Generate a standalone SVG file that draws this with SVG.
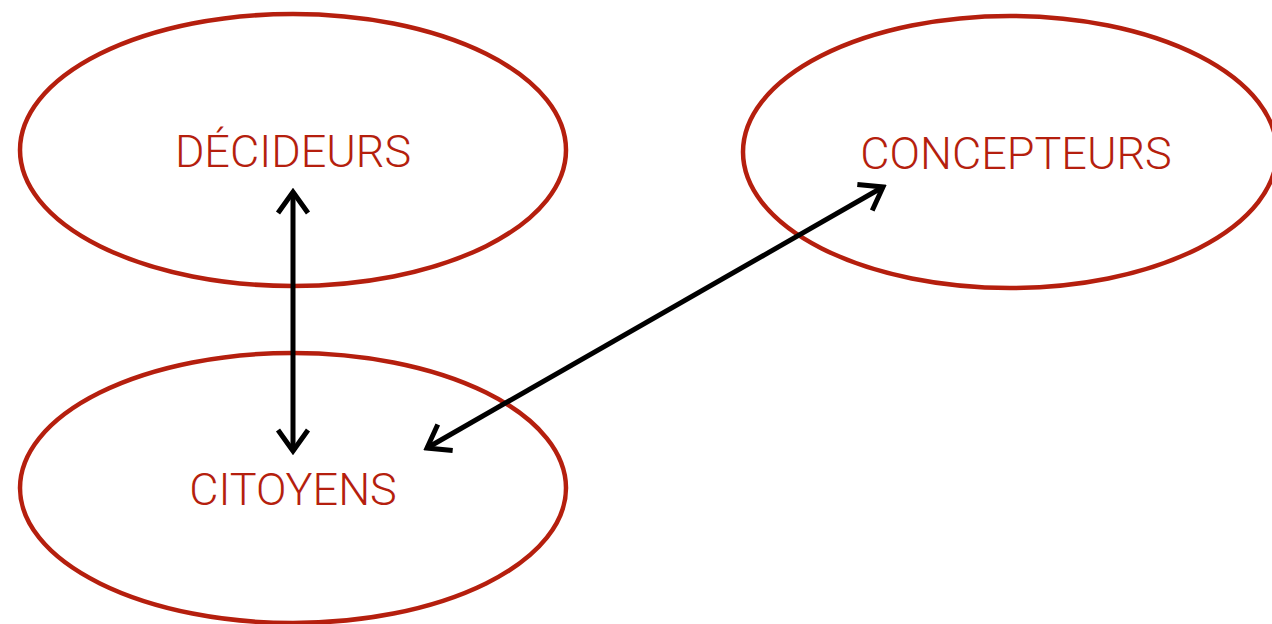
<svg xmlns="http://www.w3.org/2000/svg" width="1272" height="624" viewBox="0 0 1272 624">
<style>
.n ellipse{fill:none;stroke:#b51f0e;stroke-width:4.5}
.n text{font-family:Roboto,"Liberation Sans",sans-serif;font-weight:300;font-size:45px;fill:#b51f0e;text-anchor:middle}
.c line{stroke:#000;stroke-width:5;fill:none}
</style>
<defs>
<marker id="ah" viewBox="0 0 30 40" refX="26" refY="20" markerWidth="30" markerHeight="40" markerUnits="userSpaceOnUse" orient="auto-start-reverse">
<path d="M5,5 L26,20 L5,35" fill="none" stroke="#000" stroke-width="5" stroke-linecap="butt" stroke-linejoin="miter"/>
</marker>
</defs>
<rect width="1272" height="624" fill="#fff"/>
<g id="decideurs" class="n"><ellipse cx="293" cy="150" rx="273" ry="136"/><text x="293" y="167">DÉCIDEURS</text></g>
<g id="citoyens" class="n"><ellipse cx="293" cy="488" rx="273" ry="135"/><text x="293" y="505">CITOYENS</text></g>
<g id="concepteurs" class="n"><ellipse cx="1010" cy="152" rx="267" ry="136"/><text x="1016" y="169">CONCEPTEURS</text></g>
<g id="connectors" class="c">
<line x1="293" y1="192" x2="293" y2="451" marker-start="url(#ah)" marker-end="url(#ah)"/>
<line x1="427" y1="448" x2="883" y2="187" marker-start="url(#ah)" marker-end="url(#ah)"/>
</g>
</svg>
